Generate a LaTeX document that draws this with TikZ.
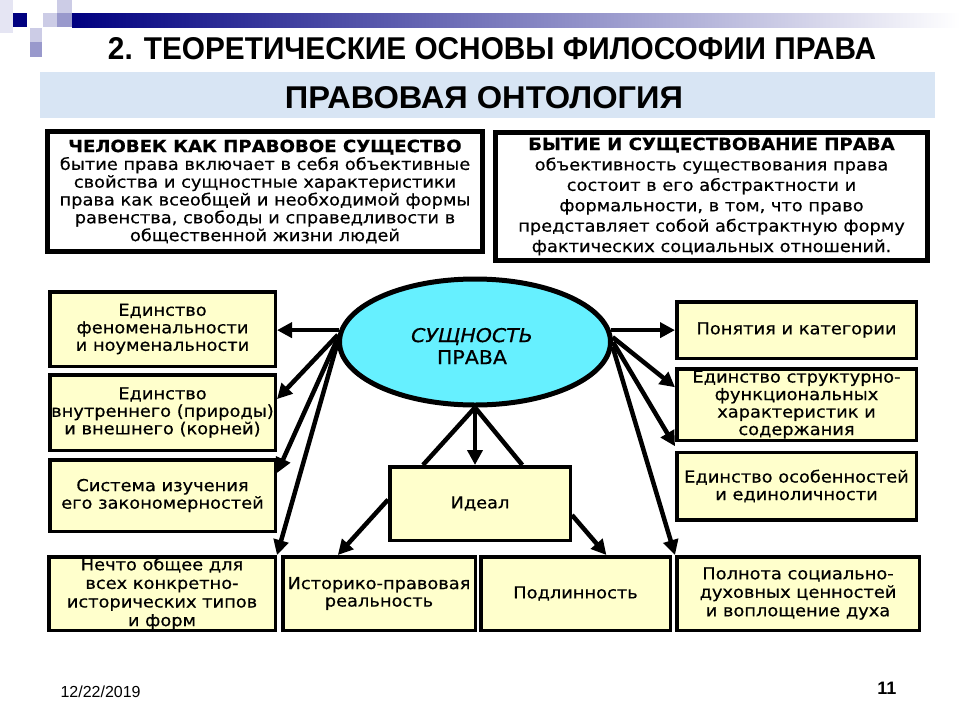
\documentclass[tikz,border=0pt]{standalone}
\usepackage{fontspec}
\setmainfont{DejaVu Sans}
\newfontfamily\bodyf{DejaVu Sans}[FakeStretch=1.08,FakeBold=0.5]
\newfontfamily\arialf{Liberation Sans}
\usetikzlibrary{arrows.meta,shapes.geometric,calc}
\definecolor{yfill}{RGB}{255,255,204}
\definecolor{cyanE}{RGB}{102,240,255}
\definecolor{navyB}{RGB}{0,0,128}
\definecolor{midB}{RGB}{153,153,204}
\definecolor{lightB}{RGB}{204,204,230}
\definecolor{bandB}{RGB}{216,229,244}
\begin{document}
\begin{tikzpicture}[x=1pt,y=-1pt,
  ybox/.style={draw=black, line width=3.5pt, fill=yfill, inner sep=0pt, align=center,
     font=\bodyf\fontsize{16.5}{17.5}\selectfont},
  tbox/.style={draw=black, line width=5pt, fill=white, inner sep=0pt, align=center,
     font=\bodyf\fontsize{16.5}{17.8}\selectfont},
  arr/.style={line width=4.5pt, -{Triangle[length=15pt,width=15pt]}},
  ln/.style={line width=4.5pt}]
\useasboundingbox (0,0) rectangle (960,720);
% decoration
\fill[lightB!50] (0,0) rectangle (13,33);
\fill[navyB] (13,13) rectangle (27,27);
\fill[lightB] (30,28) rectangle (42,42);
\fill[midB] (30,42) rectangle (42,57);
\fill[lightB] (43,13) rectangle (57,27);
\fill[lightB] (57,0) rectangle (72,13);
\fill[midB] (57,13) rectangle (72,27);
\shade[left color=navyB, right color=white] (72,13) rectangle (960,27);
% titles
\node[anchor=base] (T1) at (492,59) {\arialf\bfseries\resizebox{768pt}{22pt}{2. ТЕОРЕТИЧЕСКИЕ ОСНОВЫ ФИЛОСОФИИ ПРАВА}};
\fill[bandB] (40,72) rectangle (935,118);
\node[anchor=base] (T2) at (484,108) {\arialf\bfseries\resizebox{398pt}{22pt}{ПРАВОВАЯ ОНТОЛОГИЯ}};
% top boxes
\node[tbox, minimum width=435pt, minimum height=120pt] (TL) at (265,191.5)
 {{\bfseries\fontsize{16.8}{17.8}\selectfont ЧЕЛОВЕК КАК ПРАВОВОЕ СУЩЕСТВО}\\
  бытие права включает в себя объективные\\
  свойства и сущностные характеристики\\
  права как всеобщей и необходимой формы\\
  равенства, свободы и справедливости в\\
  общественной жизни людей};
\node[tbox, minimum width=432pt, minimum height=128pt, font=\bodyf\fontsize{16.5}{20.4}\selectfont] (TR) at (711.5,196.5)
 {{\bfseries\fontsize{16.8}{20.4}\selectfont БЫТИЕ И СУЩЕСТВОВАНИЕ ПРАВА}\\
  объективность существования права\\
  состоит в его абстрактности и\\
  формальности, в том, что право\\
  представляет собой абстрактную форму\\
  фактических социальных отношений.};
% ellipse
\node[ellipse, draw=black, line width=5pt, fill=cyanE, minimum width=271pt, minimum height=126pt,
  inner sep=0pt] (E) at (475,342) {};
\node[align=center, font=\bodyf\fontsize{19}{22}\selectfont] (Et) at (472,346)
  {{\itshape СУЩНОСТЬ}\\ПРАВА};
% left boxes
\node[ybox, minimum width=225.5pt, minimum height=74.5pt] (L1) at (162.5,329)
  {Единство\\феноменальности\\и ноуменальности};
\node[ybox, minimum width=225.5pt, minimum height=75.5pt] (L2) at (162.5,412.5)
  {Единство\\внутреннего (природы)\\и внешнего (корней)};
\node[ybox, minimum width=225.5pt, minimum height=71.5pt] (L3) at (162.5,495.5)
  {Система изучения\\его закономерностей};
\node[ybox, minimum width=226.5pt, minimum height=73.5pt, font=\bodyf\fontsize{16.5}{18.6}\selectfont] (L4) at (162,593.5)
  {Нечто общее для\\всех конкретно-\\исторических типов\\и форм};
% bottom boxes
\node[ybox, minimum width=192.5pt, minimum height=73.5pt] (B2) at (379,593.5)
  {Историко-правовая\\реальность};
\node[ybox, minimum width=189.5pt, minimum height=73.5pt] (B3) at (575.5,593.5)
  {Подлинность};
\node[ybox, minimum width=242.5pt, minimum height=73.5pt, font=\bodyf\fontsize{16.5}{18.5}\selectfont] (B4) at (798,593.5)
  {Полнота социально-\\духовных ценностей\\и воплощение духа};
% right boxes
\node[ybox, minimum width=239.5pt, minimum height=56.5pt] (R1) at (796.5,330)
  {Понятия и категории};
\node[ybox, minimum width=239.5pt, minimum height=71.5pt] (R2) at (796.5,404.5)
  {Единство структурно-\\функциональных\\характеристик и\\содержания};
\node[ybox, minimum width=239.5pt, minimum height=67.5pt] (R3) at (796.5,486)
  {Единство особенностей\\и единоличности};
% ideal
\node[ybox, minimum width=180.5pt, minimum height=73.5pt] (I) at (480,503.5) {Идеал};
% arrows left
\draw[arr] (E.175) -- (E.175 -| L1.east);
\draw[arr] (E.177) -- ($(L2.north east)!0.33!(L2.south east)$);
\draw[arr] (E.179) -- ($(L3.north east)!0.2!(L3.south east)$);
\draw[arr] (E.181) -- (L4.north east);
% arrows right
\draw[arr] (E.5) -- (E.5 -| R1.west);
\draw[arr] (E.2) -- ($(R2.north west)!0.27!(R2.south west)$);
\draw[arr] (E.0) -- ($(R2.south west)!0.5!(R3.north west)$);
\draw[arr] (E.-2) -- (B4.north west);
% bottom
\draw[arr] (E.south) -- (E.south |- I.north);
\draw[ln] (E.south) -- ($(I.north west)!0.19!(I.north east)$);
\draw[ln] (E.south) -- ($(I.north west)!0.73!(I.north east)$);
\draw[arr] ($(I.north west)!0.45!(I.south west)$) -- ($(B2.north west)!0.29!(B2.north east)$);
\draw[arr] ($(I.north east)!0.65!(I.south east)$) -- ($(B3.north west)!0.66!(B3.north east)$);
% footer
\node[anchor=base west, font=\arialf\fontsize{16}{16}\selectfont] (D) at (57,697) {12/22/2019};
\node[anchor=base east, font=\arialf\bfseries\fontsize{18}{18}\selectfont] (P) at (900,694) {11};
\end{tikzpicture}
\end{document}
